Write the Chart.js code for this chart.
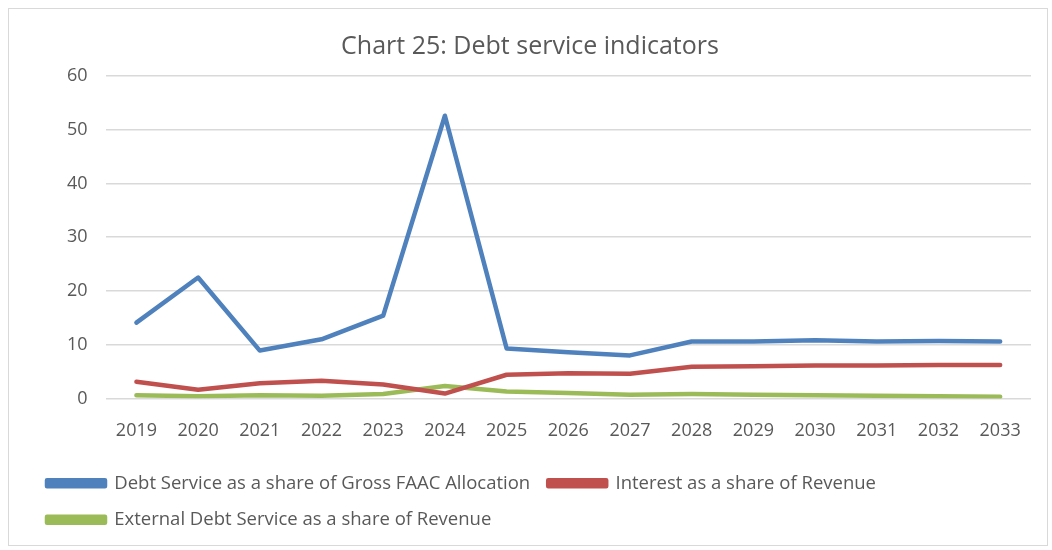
<!DOCTYPE html>
<html>
<head>
<meta charset="utf-8">
<script src="https://cdn.jsdelivr.net/npm/chart.js@4.4.0/dist/chart.umd.min.js"></script>
<style>
  html, body { margin: 0; padding: 0; background: #fff; }
  #wrap { position: absolute; left: 8px; top: 8px; width: 1040px; height: 538px; border: 1px solid #d9d9d9; box-sizing: border-box; }
</style>
</head>
<body>
<div id="wrap"><canvas id="myChart"></canvas></div>
<script>
const years = ['2019', '2020', '2021', '2022', '2023', '2024', '2025', '2026', '2027', '2028', '2029', '2030', '2031', '2032', '2033'];
const debtServiceFaac = [14.1, 22.5, 8.9, 11.0, 15.4, 52.6, 9.3, 8.6, 8.0, 10.6, 10.6, 10.8, 10.6, 10.7, 10.6];
const interestRevenue = [3.1, 1.6, 2.8, 3.3, 2.6, 0.9, 4.4, 4.7, 4.6, 5.9, 6.0, 6.1, 6.1, 6.2, 6.2];
const externalDebtRevenue = [0.6, 0.4, 0.6, 0.5, 0.8, 2.3, 1.3, 1.0, 0.7, 0.8, 0.7, 0.6, 0.5, 0.4, 0.3];
const yTicks = [0, 10, 20, 30, 40, 50, 60];

const ctx = document.getElementById('myChart').getContext('2d');
const txt = '#595959';
const fam = '"Open Sans", "Liberation Sans", sans-serif';

function line(label, data, color) {
    return {
        label: label,
        data: data,
        borderColor: color,
        backgroundColor: color,
        borderWidth: 4.5,
        pointRadius: 0,
        tension: 0,
        borderCapStyle: 'round',
        borderJoinStyle: 'round'
    };
}

new Chart(ctx, {
    type: 'line',
    data: {
        labels: years,
        datasets: [
            line('Debt Service as a share of Gross FAAC Allocation', debtServiceFaac, '#4F81BD'),
            line('Interest as a share of Revenue', interestRevenue, '#C0504D'),
            line('External Debt Service as a share of Revenue', externalDebtRevenue, '#9BBB59')
        ]
    },
    options: {
        responsive: true,
        maintainAspectRatio: false,
        animation: false,
        layout: { padding: { left: 20, right: 16, top: 10, bottom: 6 } },
        plugins: {
            title: {
                display: true,
                text: 'Chart 25: Debt service indicators',
                color: txt,
                font: { family: fam, size: 25, weight: 'normal' },
                padding: { top: 13, bottom: 14 }
            },
            legend: {
                position: 'bottom',
                align: 'start',
                labels: {
                    color: txt,
                    font: { family: fam, size: 18.5 },
                    boxWidth: 58,
                    boxHeight: 6,
                    padding: 18
                }
            },
            tooltip: { enabled: false }
        },
        scales: {
            x: {
                offset: true,
                grid: { display: false },
                border: { display: false },
                ticks: { color: txt, font: { family: fam, size: 18 }, maxRotation: 0, padding: 14 }
            },
            y: {
                min: 0,
                max: 60,
                afterBuildTicks: (axis) => { axis.ticks = yTicks.map(v => ({ value: v })); },
                afterFit: (axis) => { axis.width += 20; },
                grid: { color: '#d9d9d9', lineWidth: 1.5, drawTicks: false },
                border: { display: false },
                ticks: { color: txt, font: { family: fam, size: 18 }, padding: 18 }
            }
        }
    }
});
</script>
</body>
</html>
